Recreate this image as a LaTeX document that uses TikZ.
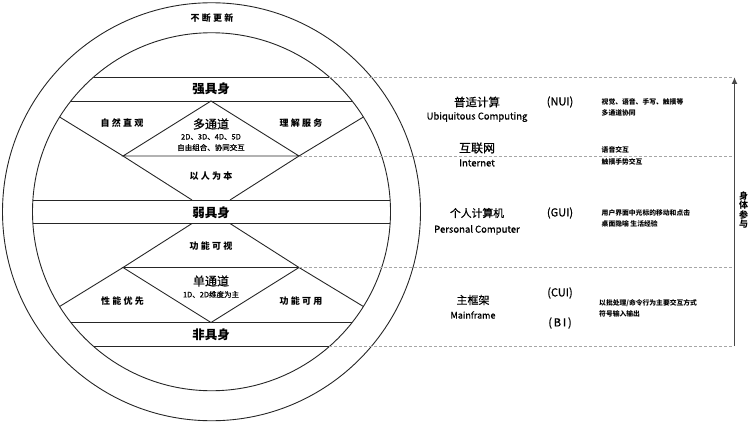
\documentclass[tikz,border=0pt]{standalone}
\usepackage{fontspec}
\setmainfont{Noto Sans CJK SC}
\newfontfamily\medf{Noto Sans CJK SC}[FakeBold=0.7]
\usetikzlibrary{arrows.meta}
\newcommand\ks{\kern2.2pt}
\begin{document}
\begin{tikzpicture}[x=1pt,y=-1pt,
  ln/.style={line width=0.9pt,black!85},
  dsh/.style={line width=0.6pt,gray!70,dash pattern=on 3pt off 2pt},
  lbl/.style={inner sep=0pt,font=\fontsize{9}{10}\selectfont\bfseries},
  big/.style={inner sep=0pt,font=\fontsize{12.5}{14}\selectfont\bfseries},
  mid/.style={inner sep=0pt,font=\medf\fontsize{12}{14}\selectfont},
  sm/.style={inner sep=0pt,font=\medf\fontsize{7.5}{9}\selectfont},
  era/.style={inner sep=0pt,font=\medf\fontsize{11.5}{13}\selectfont},
  eng/.style={inner sep=0pt,font=\medf\fontsize{9.5}{11}\selectfont},
  ui/.style={inner sep=0pt,font=\medf\fontsize{11}{13}\selectfont},
  note/.style={inner sep=0pt,anchor=west,font=\fontsize{6.8}{8}\selectfont\bfseries}]
\useasboundingbox (0,0) rectangle (751,422);
\coordinate (c) at (211.5,211.75);
% circles
\draw[ln] (c) circle[radius=209];
\draw[ln] (c) circle[radius=179];
% chords
\coordinate (a1l) at (93.7,77);   \coordinate (a1r) at (329.3,77);
\coordinate (a2l) at (70.9,101);  \coordinate (a2r) at (352.1,101);
\coordinate (a3l) at (32.9,200);  \coordinate (a3r) at (390.1,200);
\coordinate (b3l) at (32.9,223.5);\coordinate (b3r) at (390.1,223.5);
\coordinate (b2l) at (70.9,322.5);\coordinate (b2r) at (352.1,322.5);
\coordinate (b1l) at (93.7,346.5);\coordinate (b1r) at (329.3,346.5);
\draw[ln] (a1l) -- (a1r);
\draw[ln] (a2l) -- (a2r);
\draw[ln] (a3l) -- (a3r);
\draw[ln] (b3l) -- (b3r);
\draw[ln] (b2l) -- (b2r);
\draw[ln] (b1l) -- (b1r);
% upper diamond and X
\coordinate (ut) at (211,101);
\coordinate (ul) at (123,156);
\coordinate (ur) at (299,156);
\coordinate (uxl) at (59.6,117);
\coordinate (uxr) at (363.4,117);
\coordinate (ubl) at (192,200);
\coordinate (ubr) at (230,200);
\draw[ln] (ul) -- (ut) -- (ur) -- cycle;
\draw[ln] (uxl) -- (ul) -- (ubl);
\draw[ln] (uxr) -- (ur) -- (ubr);
% lower
\coordinate (lt) at (211,322.5);
\coordinate (ll) at (123,267.5);
\coordinate (lr) at (299,267.5);
\coordinate (lxl) at (59.6,306.5);
\coordinate (lxr) at (363.4,306.5);
\coordinate (ltl) at (192,223.5);
\coordinate (ltr) at (230,223.5);
\draw[ln] (ll) -- (lt) -- (lr) -- cycle;
\draw[ln] (lxl) -- (ll) -- (ltl);
\draw[ln] (lxr) -- (lr) -- (ltr);
% dashed guides
\coordinate (d1) at (733,77);
\coordinate (d2) at (733,156);
\coordinate (d3) at (733,267.5);
\coordinate (d4) at (733,346.5);
\draw[dsh] (a1r) -- (d1);
\draw[dsh] (ur) -- (d2);
\draw[dsh] (lr) -- (d3);
\draw[dsh] (b1r) -- (d4);
% arrow
\coordinate (ab) at (734.5,346);
\coordinate (at) at (734.5,77);
\draw[line width=1.5pt,black!72,-{Latex[length=7pt,width=6pt]}] (ab) -- (at);
\node[inner sep=0pt,align=center,font=\fontsize{9}{9.6}\selectfont\bfseries] (body) at (743.5,210) {身\\体\\参\\与};
% left labels
\node[lbl] (gx) at (212,18) {不\ks 断\ks 更\ks 新};
\node[big] (qjs) at (211,89) {强具身};
\node[lbl] (zr) at (122,123.5) {自\ks 然\ks 直\ks 观};
\node[lbl] (lj) at (301,123.5) {理\ks 解\ks 服\ks 务};
\node[mid] (dtd) at (211,124) {多通道};
\node[sm] (dd1) at (211,137) {2D、3D、4D、5D};
\node[sm] (dd2) at (211,147.5) {自由组合、协同交互};
\node[lbl] (yr) at (211,176) {以\ks 人\ks 为\ks 本};
\node[big] (rjs) at (211,212.5) {弱具身};
\node[lbl] (gnks) at (211,246) {功\ks 能\ks 可\ks 视};
\node[mid] (dan) at (211,281) {单通道};
\node[sm] (dn1) at (211,294.5) {1D、2D维度为主};
\node[lbl] (xn) at (122.5,301) {性\ks 能\ks 优\ks 先};
\node[lbl] (gnky) at (301,301) {功\ks 能\ks 可\ks 用};
\node[big] (fjs) at (211,334.5) {非具身};
% right side
\node[era] (e1) at (477,102) {普适计算};
\node[eng] (e1e) at (477,117) {Ubiquitous Computing};
\node[ui] (u1) at (560,102) {(NUI)};
\node[note] (n1a) at (601.5,102) {视觉、语音、手写、触摸等};
\node[note] (n1b) at (601.5,113) {多通道协同};
\node[mid] (e2) at (477,148) {互联网};
\node[eng] (e2e) at (477,163) {Internet};
\node[note] (n2a) at (601.5,150) {语音交互};
\node[note] (n2b) at (601.5,162) {触摸手势交互};
\node[era,font=\medf\fontsize{10.8}{13}\selectfont] (e3) at (477,213) {个人计算机};
\node[eng] (e3e) at (477,230) {Personal Computer};
\node[ui] (u3) at (560,213) {(GUI)};
\node[note] (n3a) at (601.5,213) {用户界面中光标的移动和点击};
\node[note] (n3b) at (601.5,224) {桌面隐喻 生活经验};
\node[ui] (e4) at (473,300) {主框架};
\node[eng,font=\medf\fontsize{9}{11}\selectfont] (e4e) at (473,315) {Mainframe};
\node[ui] (u4a) at (560,293) {(CUI)};
\node[ui] (u4b) at (560,323) {(\,B\,I\,)};
\node[note] (n4a) at (599,303) {以批处理/命令行为主要交互方式};
\node[note] (n4b) at (599,313.5) {符号输入输出};
\end{tikzpicture}
\end{document}
